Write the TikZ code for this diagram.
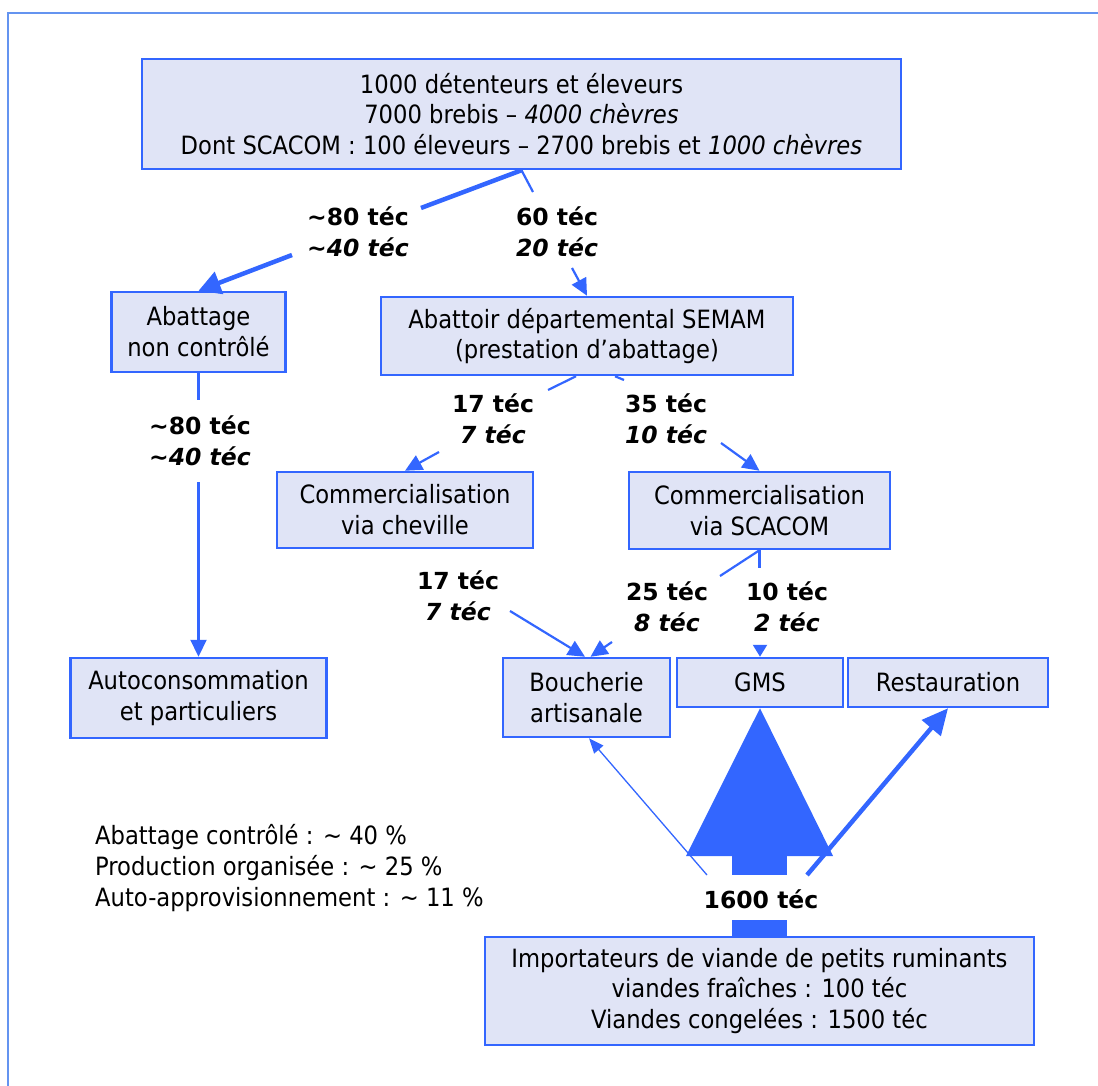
\documentclass[tikz,border=0pt]{standalone}
\usepackage{fontspec}
\setmainfont{DejaVu Sans Condensed}[
  BoldFont={DejaVu Sans Condensed Bold},
  ItalicFont={DejaVu Sans Condensed Oblique},
  BoldItalicFont={DejaVu Sans Condensed Bold Oblique}]
\newfontfamily\flowfont{DejaVu Sans}[
  BoldFont={DejaVu Sans Bold},
  ItalicFont={DejaVu Sans Oblique},
  BoldItalicFont={DejaVu Sans Bold Oblique}]
\usetikzlibrary{arrows.meta}

\definecolor{edge}{RGB}{51,102,255}
\definecolor{boxfill}{RGB}{224,228,246}
\definecolor{frameline}{RGB}{100,148,240}

\tikzset{
  box/.style={draw=edge, fill=boxfill, line width=2.5pt, inner sep=0pt,
    align=center, font=\fontsize{25.2}{30.8}\selectfont},
  qty/.style={inner sep=0pt, align=center,
    font=\flowfont\bfseries\fontsize{23.5}{31}\selectfont},
  link/.style={draw=edge, line width=2.2pt},
  heavy/.style={draw=edge, line width=4.5pt},
  fine/.style={draw=edge, line width=1.3pt},
  tip/.style={-{Triangle[length=17pt,width=16pt]}},
  smalltip/.style={-{Triangle[length=12pt,width=14pt]}},
  bigtip/.style={-{Triangle[length=22pt,width=23pt]}},
}

\begin{document}
\begin{tikzpicture}[x=1pt,y=-1pt]
\useasboundingbox (0,0) rectangle (1098,1086);

% page frame
\draw[frameline, line width=2.2pt] (8,1086) -- (8,13) -- (1098,13);

% boxes
\node[box, minimum width=759pt, minimum height=110pt] (top) at (521.5,114)
  {1000 détenteurs et éleveurs\\7000 brebis – \textit{4000 chèvres}\\Dont SCACOM : 100 éleveurs – 2700 brebis et \textit{1000 chèvres}};
\node[box, minimum width=174pt, minimum height=80pt] (anc) at (198.5,332)
  {Abattage\\non contrôlé};
\node[box, minimum width=412pt, minimum height=78pt] (semam) at (587,336)
  {Abattoir départemental SEMAM\\(prestation d’abattage)};
\node[box, minimum width=256pt, minimum height=76pt] (chev) at (405,510)
  {Commercialisation\\via cheville};
\node[box, minimum width=261pt, minimum height=77pt] (scacom) at (759.5,510.5)
  {Commercialisation\\via SCACOM};
\node[box, minimum width=256pt, minimum height=80pt] (auto) at (198.5,698)
  {Autoconsommation\\et particuliers};
\node[box, minimum width=167pt, minimum height=79pt] (bouch) at (586.5,697.5)
  {Boucherie\\artisanale};
\node[box, minimum width=166pt, minimum height=49pt] (gms) at (760,682.5)
  {GMS};
\node[box, minimum width=200pt, minimum height=49pt] (resto) at (948,682.5)
  {Restauration};
\node[box, minimum width=549pt, minimum height=108pt] (imp) at (759.5,991)
  {Importateurs de viande de petits ruminants\\viandes fraîches : 100 téc\\Viandes congelées : 1500 téc};

% flow quantities
\node[qty] (q1) at (358,232) {\textasciitilde80 téc\\\itshape\textasciitilde40 téc};
\node[qty] (q2) at (557,232) {60 téc\\\itshape 20 téc};
\node[qty] (q3) at (200,441) {\textasciitilde80 téc\\\itshape\textasciitilde40 téc};
\node[qty] (q4) at (493,419) {17 téc\\\itshape 7 téc};
\node[qty] (q5) at (666,419) {35 téc\\\itshape 10 téc};
\node[qty] (q6) at (458,596) {17 téc\\\itshape 7 téc};
\node[qty] (q7) at (667,607) {25 téc\\\itshape 8 téc};
\node[qty] (q8) at (787,607) {10 téc\\\itshape 2 téc};
\node[qty] (q9) at (761,899) {1600 téc};

% shares
\node[anchor=west, inner sep=0pt, align=left, font=\fontsize{25.2}{30.8}\selectfont] (shares) at (95,868)
  {Abattage contrôlé : \textasciitilde{} 40 \%\\Production organisée : \textasciitilde{} 25 \%\\Auto-approvisionnement : \textasciitilde{} 11 \%};

% breaks in the connectors around the quantities
\coordinate (k1) at (421,208);
\coordinate (k2) at (292,255);
\coordinate (k3) at (533,192);
\coordinate (k4) at (572,268);
\coordinate (k5) at (198.5,400);
\coordinate (k6) at (198.5,482);
\coordinate (k7) at (548,390);
\coordinate (k8) at (439,452);
\coordinate (k9) at (624,380);
\coordinate (k10) at (721,443);
\coordinate (k11) at (510,611);
\coordinate (k12) at (720,576);
\coordinate (k13) at (612,642);
\coordinate (k14) at (759.5,568);
\coordinate (k15) at (760,645);
\coordinate (k16) at (707,875);
\coordinate (k17) at (807,875);

% producers
\draw[heavy] (top.south) -- (k1);
\draw[heavy, bigtip] (k2) -- (anc.north);
\draw[link] (top.south) -- (k3);
\draw[link, tip] (k4) -- (semam.north);

% uncontrolled slaughter
\draw[link] (anc.south) -- (k5);
\draw[link, tip] (k6) -- (auto.north);

% slaughterhouse
\draw[link] ([xshift=-11pt]semam.south) -- (k7);
\draw[link, tip] (k8) -- (chev.north);
\draw[link] ([xshift=28pt]semam.south) -- (k9);
\draw[link, tip] (k10) -- (scacom.north);

% marketing
\draw[link, tip] (k11) -- ([xshift=-1.5pt]bouch.north);
\draw[link] (scacom.south) -- (k12);
\draw[link, tip] (k13) -- ([xshift=4pt]bouch.north);
\draw[link] (scacom.south) -- (k14);
\draw[link, smalltip] (k15) -- (gms.north);

% imports
\draw[fine, -{Triangle[length=15pt,width=12pt]}] (k16) -- ([xshift=2.5pt]bouch.south);
\draw[heavy, -{Triangle[length=26pt,width=24pt]}] (k17) -- (resto.south);
\fill[edge] (gms.south) -- (686,856) -- (833,856) -- cycle;
\fill[edge] (732,854) rectangle (787,875);
\fill[edge] (732,920) rectangle (787,937);
\end{tikzpicture}
\end{document}
